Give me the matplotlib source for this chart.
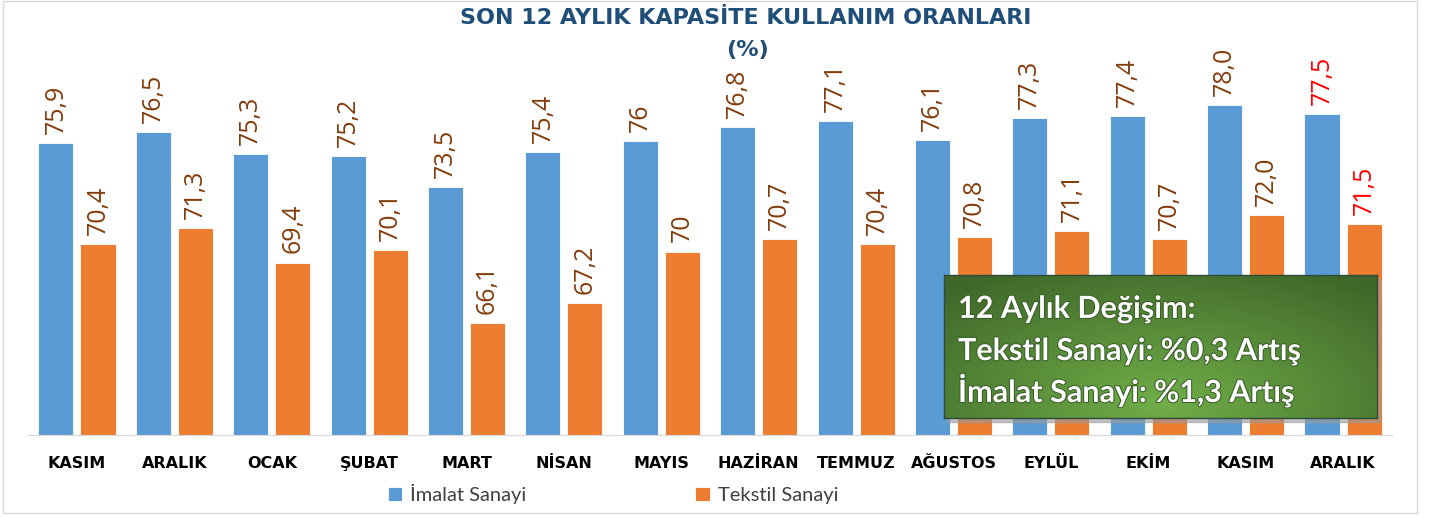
import numpy as np
import matplotlib.pyplot as plt
from matplotlib.patches import Rectangle
import matplotlib.patheffects as pe

# Veriler
aylar = ['KASIM', 'ARALIK', 'OCAK', 'ŞUBAT', 'MART', 'NİSAN', 'MAYIS',
         'HAZİRAN', 'TEMMUZ', 'AĞUSTOS', 'EYLÜL', 'EKİM', 'KASIM', 'ARALIK']
imalat = [75.9, 76.5, 75.3, 75.2, 73.5, 75.4, 76.0, 76.8, 77.1, 76.1, 77.3, 77.4, 78.0, 77.5]
tekstil = [70.4, 71.3, 69.4, 70.1, 66.1, 67.2, 70.0, 70.7, 70.4, 70.8, 71.1, 70.7, 72.0, 71.5]
imalat_etiket = ['75,9', '76,5', '75,3', '75,2', '73,5', '75,4', '76', '76,8', '77,1',
                 '76,1', '77,3', '77,4', '78,0', '77,5']
tekstil_etiket = ['70,4', '71,3', '69,4', '70,1', '66,1', '67,2', '70', '70,7', '70,4',
                  '70,8', '71,1', '70,7', '72,0', '71,5']
kutu_satirlar = ['12 Aylık Değişim:', 'Tekstil Sanayi: %0,3 Artış', 'İmalat Sanayi: %1,3 Artış']

mavi = '#5B9BD5'
turuncu = '#ED7D31'
kahve = '#843C0C'

W, H = 1437, 517
fig = plt.figure(figsize=(W / 100, H / 100), dpi=100)

# dis cerceve
fig.patches.append(Rectangle((3 / W, 4 / H), 1414 / W, 512 / H, transform=fig.transFigure,
                             fill=False, edgecolor='#D9D9D9', linewidth=1))

ax = fig.add_axes([28.3 / W, 82 / H, 1363.4 / W, 367 / H])
x = np.arange(len(aylar))
w = 0.36
ax.bar(x - 0.216, imalat, w, color=mavi, edgecolor='white', linewidth=0.6, label='İmalat Sanayi')
ax.bar(x + 0.216, tekstil, w, color=turuncu, edgecolor='white', linewidth=0.6, label='Tekstil Sanayi')
ax.set_ylim(60, 80)
ax.set_xlim(-0.5, len(aylar) - 0.5)

for i in range(len(aylar)):
    renk = 'red' if i == len(aylar) - 1 else kahve
    ax.annotate(imalat_etiket[i], (x[i] - 0.216, imalat[i]), xytext=(0, 6.5),
                textcoords='offset points', rotation=90, ha='center', va='bottom',
                fontsize=18, color=renk, family='Open Sans', annotation_clip=False)
    ax.annotate(tekstil_etiket[i], (x[i] + 0.216, tekstil[i]), xytext=(0, 6.5),
                textcoords='offset points', rotation=90, ha='center', va='bottom',
                fontsize=18, color=renk, family='Open Sans', annotation_clip=False)

for s in ['top', 'right', 'left']:
    ax.spines[s].set_visible(False)
ax.spines['bottom'].set_color('#D9D9D9')
ax.set_yticks([])
ax.set_xticks(x)
ax.set_xticklabels(aylar, fontsize=11.5, fontweight='bold', family='DejaVu Sans')
ax.tick_params(axis='x', length=0, pad=15)

h, l = ax.get_legend_handles_labels()
leg = fig.legend(h, l, loc='center', bbox_to_anchor=(613 / W, 1 - 494 / H), ncol=2, frameon=False,
                 prop={'family': 'Lato', 'size': 14.5}, handlelength=0.7, handleheight=0.7,
                 handletextpad=0.4, columnspacing=8.4)
for t in leg.get_texts():
    t.set_color('#404040')

fig.text(746 / W, 1 - 18 / H, 'SON 12 AYLIK KAPASİTE KULLANIM ORANLARI', ha='center', va='center',
         fontsize=16, fontweight='bold', color='#1F4E79', family='DejaVu Sans')
fig.text(748 / W, 1 - 50 / H, '(%)', ha='center', va='center',
         fontsize=16, fontweight='bold', color='#1F4E79', family='DejaVu Sans')

# yesil kutu
bx0, by0, bw, bh = 944, 275, 433, 143
fig.patches.append(Rectangle(((bx0 + 3) / W, 1 - (by0 + bh + 4) / H), bw / W, bh / H,
                             transform=fig.transFigure, color='#9A9A9A', alpha=0.6, zorder=2))
kax = fig.add_axes([bx0 / W, 1 - (by0 + bh) / H, bw / W, bh / H], zorder=3)
gx, gy = np.meshgrid(np.linspace(0, 1, 300), np.linspace(0, 1, 120))
r = np.sqrt(((gx - 0.5) / 0.75) ** 2 + ((gy - 0.9) / 1.1) ** 2)
r = np.clip(r, 0, 1)
c1 = np.array([0.44, 0.68, 0.28])
c2 = np.array([0.24, 0.40, 0.16])
img = c1[None, None, :] * (1 - r[..., None]) + c2[None, None, :] * r[..., None]
kax.imshow(img, extent=(0, 1, 0, 1), aspect='auto')
kax.set_xlim(0, 1)
kax.set_ylim(0, 1)
kax.set_xticks([])
kax.set_yticks([])
for s in kax.spines.values():
    s.set_color('#2E4A3A')
    s.set_linewidth(1)
for yy, satir in zip([0.70, 0.405, 0.112], kutu_satirlar):
    kax.text(14 / bw, yy, satir, ha='left', va='baseline', fontsize=22, fontweight='bold',
             color='white', family='Lato',
             path_effects=[pe.withStroke(linewidth=1.5, foreground='#3A5F28')])

fig.savefig('out.png', dpi=100)
